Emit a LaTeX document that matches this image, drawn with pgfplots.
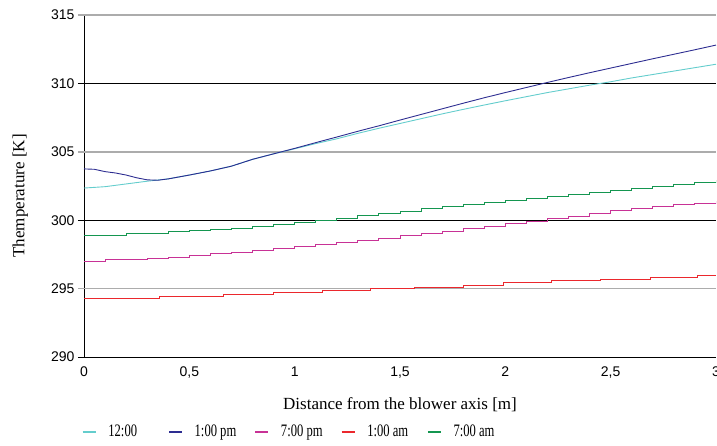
\documentclass[border=0pt]{standalone}
\usepackage{fontspec}
\setmainfont{Liberation Serif}
\newfontfamily\arial{Liberation Sans}
\usepackage{graphicx}
\usepackage{pgfplots}
\pgfplotsset{compat=1.18}
\definecolor{c1}{RGB}{100,205,205}
\definecolor{c2}{RGB}{45,45,145}
\definecolor{c3}{RGB}{200,50,150}
\definecolor{c4}{RGB}{235,40,45}
\definecolor{c5}{RGB}{20,150,80}
\newcommand{\legtxt}[1]{\makebox[48pt][l]{\scalebox{0.72}[1]{#1}}}
\begin{document}
\begin{tikzpicture}
\begin{axis}[
  name=ax,
  scale only axis, width=632pt, height=342pt,
  xmin=0, xmax=3, ymin=290, ymax=315,
  axis x line*=bottom, axis y line*=left,
  axis line style={black, line width=0.9pt},
  xtick={0,0.5,1,1.5,2,2.5,3},
  xticklabels={0,{0,5},1,{1,5},2,{2,5},3},
  xtick style={draw=none},
  ytick={290,300,310},
  ymajorgrids,
  major grid style={black, line width=0.9pt},
  extra y ticks={295,305,315},
  extra y tick style={grid=major, major grid style={gray!65, line width=1.5pt}, ytick style={gray!65, line width=1.5pt}},
  tick align=outside, major tick length=6pt,
  ytick style={black, line width=0.9pt},
  /pgf/number format/assume math mode=true,
  tick label style={font=\arial\fontsize{14}{16}\selectfont},
  label style={font=\fontsize{17}{20}\selectfont},
  xlabel={Distance from the blower axis [m]},
  ylabel={Themperature [K]},
  xlabel style={at={(axis description cs:0.5,-0.140)}, anchor=center},
  ylabel style={at={(axis description cs:-0.101,0.471)}, anchor=center},
  legend style={at={(-0.003,-0.219)}, anchor=west, draw=none, fill=none,
    inner sep=0pt, outer sep=0pt, font=\fontsize{17.5}{20}\selectfont,
    legend columns=5,
    nodes={inner sep=0pt},
    /tikz/every even column/.append style={column sep=12pt},
    /tikz/every odd column/.append style={column sep=12pt}},
  legend image code/.code={\draw[#1, line width=1.3pt] (0pt,0pt) -- (13pt,0pt);},
  every axis plot/.append style={line width=0.9pt},
]
\addplot[c1] coordinates {(0,302.35)(0.1,302.45)(0.2,302.65)(0.3,302.85)(0.4,303.02)(0.5,303.3)(0.6,303.6)(0.7,303.95)(0.8,304.45)(0.9,304.85)(1.0,305.22)(1.1,305.6)(1.2,305.95)(1.3,306.35)(1.4,306.72)(1.5,307.07)(1.6,307.42)(1.7,307.77)(1.8,308.1)(1.9,308.42)(2.0,308.73)(2.1,309.03)(2.2,309.33)(2.3,309.6)(2.4,309.87)(2.5,310.12)(2.6,310.4)(2.7,310.65)(2.8,310.9)(2.9,311.15)(3.0,311.4)};
\addlegendentry{\legtxt{12:00}}
\addplot[c2] coordinates {(0,303.75)(0.05,303.72)(0.1,303.55)(0.15,303.45)(0.2,303.3)(0.25,303.1)(0.3,302.95)(0.35,302.92)(0.4,303.02)(0.5,303.3)(0.6,303.6)(0.7,303.95)(0.8,304.45)(0.9,304.85)(1.0,305.25)(1.1,305.67)(1.2,306.08)(1.3,306.5)(1.4,306.9)(1.5,307.32)(1.6,307.73)(1.7,308.14)(1.8,308.55)(1.9,308.95)(2.0,309.33)(2.1,309.7)(2.2,310.07)(2.3,310.43)(2.4,310.78)(2.5,311.12)(2.6,311.46)(2.7,311.8)(2.8,312.13)(2.9,312.46)(3.0,312.8)};
\addlegendentry{\legtxt{1:00 pm}}
\addplot[c3, const plot] coordinates {(0,297.0)(0.1,297.1)(0.2,297.12)(0.3,297.2)(0.4,297.3)(0.5,297.42)(0.6,297.55)(0.7,297.66)(0.8,297.8)(0.9,297.92)(1.0,298.05)(1.1,298.2)(1.2,298.35)(1.3,298.5)(1.4,298.68)(1.5,298.85)(1.6,299.02)(1.7,299.2)(1.8,299.38)(1.9,299.55)(2.0,299.73)(2.1,299.9)(2.2,300.1)(2.3,300.3)(2.4,300.5)(2.5,300.7)(2.6,300.85)(2.7,301.0)(2.8,301.12)(2.9,301.25)(3.0,301.38)};
\addlegendentry{\legtxt{7:00 pm}}
\addplot[c4, const plot] coordinates {(0,294.3)(0.36,294.45)(0.66,294.55)(0.9,294.72)(1.13,294.87)(1.36,295.0)(1.57,295.12)(1.8,295.25)(1.99,295.42)(2.22,295.57)(2.45,295.7)(2.69,295.83)(2.91,295.97)(3,295.97)};
\addlegendentry{\legtxt{1:00 am}}
\addplot[c5, const plot] coordinates {(0,298.9)(0.1,298.9)(0.2,299.0)(0.3,299.05)(0.4,299.15)(0.5,299.22)(0.6,299.3)(0.7,299.43)(0.8,299.55)(0.9,299.7)(1.0,299.85)(1.1,300.0)(1.2,300.15)(1.3,300.32)(1.4,300.5)(1.5,300.67)(1.6,300.85)(1.7,301.0)(1.8,301.17)(1.9,301.3)(2.0,301.45)(2.1,301.6)(2.2,301.75)(2.3,301.87)(2.4,302.0)(2.5,302.15)(2.6,302.3)(2.7,302.45)(2.8,302.6)(2.9,302.78)(3.0,302.95)};
\addlegendentry{\legtxt{7:00 am}}
\end{axis}
\pgfresetboundingbox
\path[use as bounding box] ([xshift=-84pt,yshift=-89pt]ax.south west) rectangle ([xshift=1pt,yshift=15pt]ax.north east);
\end{tikzpicture}
\end{document}
